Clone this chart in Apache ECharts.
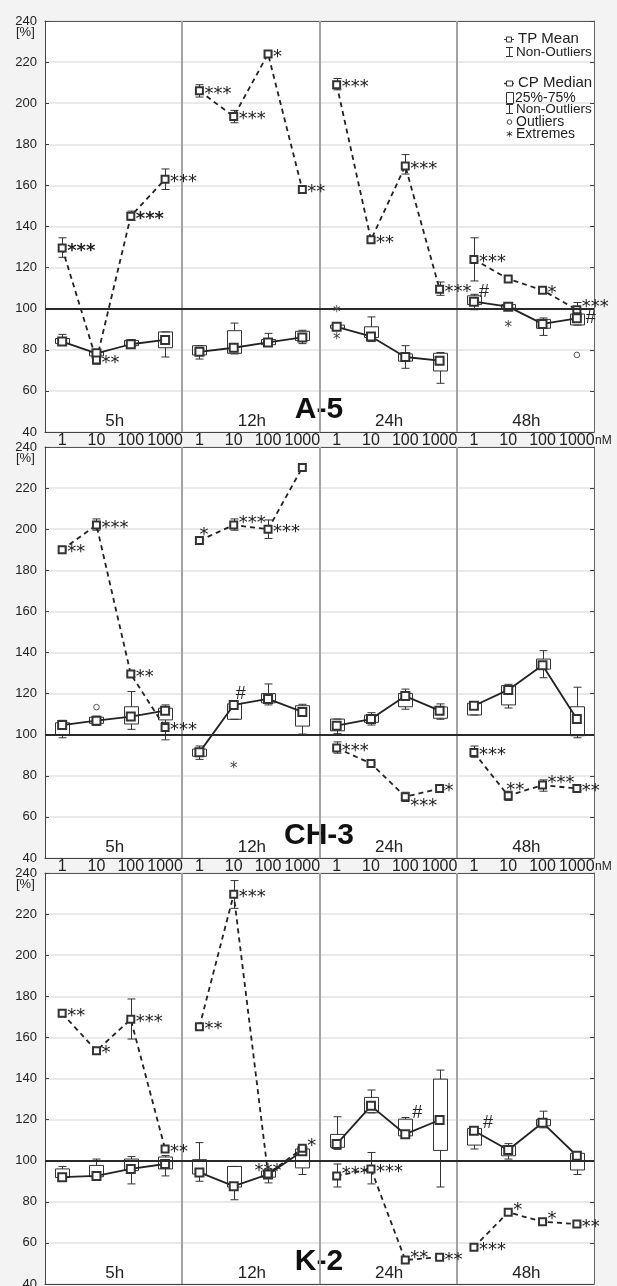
<!DOCTYPE html>
<html><head><meta charset="utf-8">
<script src="https://cdn.jsdelivr.net/npm/echarts@6/dist/echarts.min.js"></script>
<style>html,body{margin:0;padding:0;background:#f3f3f3;overflow:hidden}#c{width:617px;height:1286px}</style>
</head><body><div id="c"></div>
<script>
// ---------------- DATA ----------------
const doses = ['1', '10', '100', '1000'];
const times = ['5h', '12h', '24h', '48h'];
const categories = times.flatMap(t => doses.map(d => t + '|' + d));
const yTicks = [40, 60, 80, 100, 120, 140, 160, 180, 200, 220, 240];
const panelNames = ['A-5', 'CH-3', 'K-2'];

// A-5 : TP mean (dashed) with non-outlier range
const a5TpMean = [129.5, 75, 145, 163, 206, 193.5, 224, 158, 209, 133.5, 169.5, 109.5, 124, 114.5, 109, 99.5];
const a5TpLow  = [125, 73, 143, 158, 203, 190.5, 223, 156.5, 206.5, 132.5, 165.5, 106.5, 113.5, 114, 108.5, 97];
const a5TpHigh = [134.5, 77, 147.5, 168, 209, 196.5, 225, 159.5, 212, 134.5, 175, 113, 134.5, 115, 109.5, 103];
const a5TpSig  = ['***', '**', '***', '***', '***', '***', '*', '**', '***', '**', '***', '***', '***', '', '*', '***'];
// A-5 : CP median box (min, q1, median, q3, max)
const a5CpMin = [83, 76, 81.5, 76.5, 75.5, 78, 82, 83, 90.5, 84, 71, 63.7, 99.5, 100, 87, 92];
const a5CpQ1  = [83, 77, 82, 81, 77.5, 78.3, 82.5, 84.5, 90.5, 86, 74.5, 69.7, 102, 100.3, 90.5, 92.1];
const a5CpMed = [84, 78.3, 82.7, 84.8, 79, 81, 83.6, 86, 91.2, 86.5, 76.5, 74.7, 103.4, 101, 92.6, 95.3];
const a5CpQ3  = [85.5, 79, 84.5, 88.7, 82, 89.3, 85, 89, 92, 91.2, 78, 78.3, 106.3, 102, 94.8, 97.4];
const a5CpMax = [87.5, 79.5, 85, 88.7, 82, 93, 88, 89.5, 92, 96, 82, 78.7, 107, 102, 95.5, 98];
const a5CpSig = ['', '', '', '', '', '', '', '', '', '', '', '', '#', '', '', '#'];
const a5Extremes = [[8, 99.8], [8, 86.5], [13, 92.6]];
const a5Outliers = [[15, 77.5]];

// CH-3
const ch3TpMean = [190, 202, 129.5, 103.5, 194.5, 202, 200, 230, 93.5, 86, 69.8, 73.8, 91.3, 70.3, 75.5, 73.8];
const ch3TpLow  = [189.5, 199.5, 128, 97.5, 194, 199.5, 195.5, 229.5, 91, 85.5, 67.5, 73.3, 89, 68, 72.5, 72.8];
const ch3TpHigh = [190.5, 205, 131, 106, 195, 205, 204.5, 230.5, 96.5, 86.5, 72, 74.3, 94.5, 72.5, 78, 74.8];
const ch3TpSig  = ['**', '***', '**', '***', '*', '***', '***', '', '***', '', '***', '*', '***', '**', '***', '**'];
const ch3CpMin = [98.5, 104.5, 102.6, 103, 88, 107.5, 114.5, 100.3, 100.5, 104.7, 112.4, 107.5, 109.6, 113, 127.7, 98.5];
const ch3CpQ1  = [100, 105.5, 105.2, 107.2, 89.5, 107.5, 115.5, 104.2, 101.9, 106, 113.6, 108, 109.6, 114.5, 131.9, 99.5];
const ch3CpMed = [104.7, 106.8, 108.8, 111.7, 91.4, 114.5, 117.4, 111.1, 104.4, 107.6, 118.8, 111.7, 114.1, 121.8, 133.8, 107.6];
const ch3CpQ3  = [105.8, 108.5, 113.6, 112.9, 93, 115, 120, 114.1, 107.6, 109.5, 120.1, 113.5, 115.3, 123.9, 136.8, 113.6];
const ch3CpMax = [107, 109, 121, 114.5, 94.5, 115, 124.7, 114.8, 107.6, 110.7, 122.2, 115, 115.3, 124.5, 140.9, 123.1];
const ch3CpSig = ['', '', '', '', '', '#', '', '', '', '', '', '', '', '', '', ''];
const ch3Extremes = [[5, 85.3]];
const ch3Outliers = [[1, 113.4]];

// K-2
const k2TpMean = [171.7, 153.5, 168.8, 105.7, 165.2, 229.6, 93.5, 106, 92.6, 96, 51.7, 53, 57.9, 74.9, 70.3, 69.2];
const k2TpLow  = [170, 153, 159.2, 105, 164.7, 222.8, 92.5, 105.5, 87.2, 88.7, 51, 52.5, 57, 74.4, 69.8, 68.7];
const k2TpHigh = [173.5, 154, 178.7, 106.5, 165.7, 236.3, 94.5, 106.5, 98.4, 104, 52.5, 53.5, 59, 75.4, 70.8, 69.7];
const k2TpSig  = ['**', '*', '***', '**', '**', '***', '***', '*', '***', '***', '**', '**', '***', '*', '*', '**'];
const k2CpMin = [91.5, 92, 88.7, 92.6, 90, 81, 89.2, 93.3, 105.5, 123.3, 112.1, 87.2, 105.7, 100.8, 116, 93.3];
const k2CpQ1  = [91.8, 92.2, 95.2, 96, 93.5, 87.2, 92, 96.5, 106.5, 123.3, 112.1, 105, 107.6, 102.4, 117, 95.5];
const k2CpMed = [92, 92.6, 96, 98.4, 94.3, 87.6, 93.3, 104.6, 108.1, 126.7, 112.9, 119.8, 114.6, 105.2, 118.5, 102.4];
const k2CpQ3  = [96, 97.7, 100.8, 101.8, 100.5, 97.2, 95, 105.7, 112.8, 130.8, 120.2, 139.7, 115.7, 107.2, 120.1, 103.6];
const k2CpMax = [97.2, 100.8, 102, 102.5, 108.8, 97.2, 96, 106, 121.4, 134.4, 121, 144.1, 115.7, 108.3, 124.1, 104];
const k2CpSig = ['', '', '', '', '', '', '', '', '', '', '#', '', '#', '', '', ''];
const k2Extremes = [];
const k2Outliers = [];

// ---------------- STYLE (label placement only) ----------------
const sigPlace = [
  {15: 'tr'},
  {4: 'tc', 5: 'tr', 10: 'br', 13: 'tl', 14: 'tr'},
  {6: 't', 7: 'tr', 8: 'tr', 10: 'tr', 13: 'tr', 14: 'tr'}
];
const sigBold = [{0: true, 2: true}, {}, {}];
const hashOffset = [
  {12: [10, -10], 15: [14, 0]},
  {5: [7, -11]},
  {10: [12, -21], 12: [14, -8]}
];
const showXLabels = [true, true, false];

const panels = [
  {tpMean: a5TpMean, tpLow: a5TpLow, tpHigh: a5TpHigh, tpSig: a5TpSig, min: a5CpMin, q1: a5CpQ1, med: a5CpMed, q3: a5CpQ3, max: a5CpMax, cpSig: a5CpSig, ext: a5Extremes, out: a5Outliers},
  {tpMean: ch3TpMean, tpLow: ch3TpLow, tpHigh: ch3TpHigh, tpSig: ch3TpSig, min: ch3CpMin, q1: ch3CpQ1, med: ch3CpMed, q3: ch3CpQ3, max: ch3CpMax, cpSig: ch3CpSig, ext: ch3Extremes, out: ch3Outliers},
  {tpMean: k2TpMean, tpLow: k2TpLow, tpHigh: k2TpHigh, tpSig: k2TpSig, min: k2CpMin, q1: k2CpQ1, med: k2CpMed, q3: k2CpQ3, max: k2CpMax, cpSig: k2CpSig, ext: k2Extremes, out: k2Outliers}
];

const FONT = '"Liberation Sans", Arial, sans-serif';
const STAR = '"DejaVu Sans", sans-serif';
const INK = '#222';
const tops = [21, 447, 873];
const GL = 45, GW = 549, GH = 411;

const option = {backgroundColor: '#f3f3f3', animation: false, grid: [], xAxis: [], yAxis: [], series: [], graphic: []};

function grp(values, g) { return values.map((v, i) => Math.floor(i / 4) === g ? v : '-'); }

panels.forEach((P, p) => {
  option.grid.push({left: GL, top: tops[p], width: GW, height: GH, show: true, backgroundColor: '#fff', borderWidth: 0,
    containLabel: false, outerBoundsMode: 'none'});
  const xi = option.xAxis.length;
  option.xAxis.push({
    gridIndex: p, type: 'category', data: categories, position: 'bottom', boundaryGap: true,
    axisLine: {lineStyle: {color: '#444', width: 1}},
    axisTick: {inside: true, length: 4, alignWithLabel: true, lineStyle: {color: '#444'}},
    axisLabel: {show: showXLabels[p], formatter: v => v.split('|')[1], fontSize: 16, margin: 1, color: INK, fontFamily: FONT, interval: 0},
    splitLine: {show: false}
  });
  option.xAxis.push({
    gridIndex: p, type: 'category', data: categories, position: 'top', boundaryGap: true,
    axisLine: {lineStyle: {color: '#555', width: 1}},
    axisTick: {inside: true, length: 4, alignWithLabel: true, lineStyle: {color: '#444'}},
    axisLabel: {show: false}, splitLine: {show: false}
  });
  const yi = option.yAxis.length;
  option.yAxis.push({
    gridIndex: p, type: 'value', min: 40, max: 240, interval: 20, position: 'left',
    axisLine: {show: true, lineStyle: {color: '#444'}},
    axisTick: {show: true, inside: true, length: 4, lineStyle: {color: '#444'}},
    axisLabel: {fontSize: 13, color: INK, fontFamily: FONT, margin: 8,
      formatter: v => yTicks.includes(v) ? String(v) : ''},
    splitLine: {show: true, lineStyle: {color: '#e3e3e3', width: 1.5}}
  });
  option.yAxis.push({
    gridIndex: p, type: 'value', min: 40, max: 240, interval: 20, position: 'right',
    axisLine: {show: true, lineStyle: {color: '#666'}},
    axisTick: {show: true, inside: true, length: 4, lineStyle: {color: '#444'}},
    axisLabel: {show: false}, splitLine: {show: false}
  });
  const ax = {xAxisIndex: xi, yAxisIndex: yi};

  // group separators
  option.series.push(Object.assign({
    type: 'custom', silent: true, z: 1, data: [[3, 40], [7, 40], [11, 40]], encode: {x: 0, y: 1},
    renderItem: (params, api) => {
      const i = api.value(0);
      const a = api.coord([i, 240]), b = api.coord([i + 1, 40]);
      const x = Math.round((a[0] + b[0]) / 2);
      return {type: 'line', shape: {x1: x, y1: a[1], x2: x, y2: b[1]}, style: {stroke: '#a3a3a3', lineWidth: 2}};
    }
  }, ax));

  // CP boxes
  option.series.push(Object.assign({
    type: 'custom', silent: true, z: 3,
    data: P.med.map((m, i) => [i, P.min[i], P.q1[i], m, P.q3[i], P.max[i]]),
    encode: {x: 0, y: [1, 2, 3, 4, 5]},
    renderItem: (params, api) => {
      const i = api.value(0);
      const c = v => api.coord([i, v]);
      const x = Math.round(c(api.value(3))[0]) + 0.5;
      const yMin = c(api.value(1))[1], yQ1 = c(api.value(2))[1], yQ3 = c(api.value(4))[1], yMax = c(api.value(5))[1];
      const hw = 7, cw = 4;
      const st = {stroke: '#333', lineWidth: 1};
      return {type: 'group', children: [
        {type: 'line', shape: {x1: x, y1: yQ3, x2: x, y2: yMax}, style: st},
        {type: 'line', shape: {x1: x - cw, y1: yMax, x2: x + cw, y2: yMax}, style: st},
        {type: 'line', shape: {x1: x, y1: yQ1, x2: x, y2: yMin}, style: st},
        {type: 'line', shape: {x1: x - cw, y1: yMin, x2: x + cw, y2: yMin}, style: st},
        {type: 'rect', shape: {x: x - hw, y: yQ3, width: 2 * hw, height: Math.max(yQ1 - yQ3, 1)}, style: {stroke: '#333', lineWidth: 1, fill: 'rgba(0,0,0,0)'}}
      ]};
    }
  }, ax));

  // TP non-outlier ranges
  option.series.push(Object.assign({
    type: 'custom', silent: true, z: 3,
    data: P.tpMean.map((m, i) => [i, P.tpLow[i], m, P.tpHigh[i]]),
    encode: {x: 0, y: [1, 2, 3]},
    renderItem: (params, api) => {
      const i = api.value(0);
      const lo = api.coord([i, api.value(1)]), hi = api.coord([i, api.value(3)]);
      const x = Math.round(lo[0]) + 0.5, cw = 4;
      const st = {stroke: '#333', lineWidth: 1};
      return {type: 'group', children: [
        {type: 'line', shape: {x1: x, y1: lo[1], x2: x, y2: hi[1]}, style: st},
        {type: 'line', shape: {x1: x - cw, y1: lo[1], x2: x + cw, y2: lo[1]}, style: st},
        {type: 'line', shape: {x1: x - cw, y1: hi[1], x2: x + cw, y2: hi[1]}, style: st}
      ]};
    }
  }, ax));

  // CP median lines (solid) and TP mean lines (dashed), per time group
  for (let g = 0; g < 4; g++) {
    const s = Object.assign({
      type: 'line', z: 4, data: grp(P.med, g), connectNulls: false, silent: true,
      symbol: 'emptyRect', symbolSize: 8, showAllSymbol: true,
      lineStyle: {color: INK, width: 1.8}, itemStyle: {color: '#333', borderWidth: 1}
    }, ax);
    if (g === 0) {
      s.markLine = {silent: true, symbol: 'none', label: {show: false}, animation: false,
        lineStyle: {color: '#2a2a2a', width: 2, type: 'solid'}, data: [{yAxis: 100}]};
    }
    option.series.push(s);
    option.series.push(Object.assign({
      type: 'line', z: 4, data: grp(P.tpMean, g), connectNulls: false, silent: true,
      symbol: 'emptyRect', symbolSize: 7, showAllSymbol: true,
      lineStyle: {color: INK, width: 1.8, type: [5, 4]}, itemStyle: {color: '#333', borderWidth: 1}
    }, ax));
  }

  // significance labels for TP means
  const sigData = [];
  P.tpSig.forEach((t, i) => { if (t) sigData.push([i, P.tpMean[i]]); });
  option.series.push(Object.assign({
    type: 'custom', silent: true, z: 6, data: sigData, encode: {x: 0, y: 1},
    renderItem: (params, api) => {
      const i = api.value(0);
      const pt = api.coord([i, api.value(1)]);
      const txt = P.tpSig[i];
      const pl = sigPlace[p][i] || 'r';
      let dx = 5, dy = -2, align = 'left';
      if (pl === 'tr') { dy = -7; }
      else if (pl === 'br') { dy = 5; }
      else if (pl === 't') { dx = 0; dy = -8; align = 'center'; }
      else if (pl === 'tl') { dx = -2; dy = -10; }
      else if (pl === 'tc') { dx = 0; dy = -10; }
      return {type: 'text', x: pt[0] + dx, y: pt[1] + dy + 5,
        style: {text: txt, fontSize: 18, fontFamily: STAR, fontWeight: sigBold[p][i] ? 'bold' : 'normal',
          fill: INK, align: align, verticalAlign: 'middle'}};
    }
  }, ax));

  // # labels for CP medians
  const hashData = [];
  P.cpSig.forEach((t, i) => { if (t) hashData.push([i, P.med[i]]); });
  option.series.push(Object.assign({
    type: 'custom', silent: true, z: 6, data: hashData, encode: {x: 0, y: 1},
    renderItem: (params, api) => {
      const i = api.value(0);
      const pt = api.coord([i, api.value(1)]);
      const off = hashOffset[p][i] || [10, -8];
      return {type: 'text', x: pt[0] + off[0], y: pt[1] + off[1],
        style: {text: P.cpSig[i], fontSize: 18, fontFamily: FONT, fill: INK, align: 'center', verticalAlign: 'middle'}};
    }
  }, ax));

  // extremes (*) and outliers (o)
  option.series.push(Object.assign({
    type: 'custom', silent: true, z: 6, data: P.ext, encode: {x: 0, y: 1},
    renderItem: (params, api) => {
      const pt = api.coord([api.value(0), api.value(1)]);
      return {type: 'text', x: pt[0], y: pt[1] + 4,
        style: {text: '*', fontSize: 15, fontFamily: STAR, fill: '#444', align: 'center', verticalAlign: 'middle'}};
    }
  }, ax));
  option.series.push(Object.assign({
    type: 'custom', silent: true, z: 6, data: P.out, encode: {x: 0, y: 1},
    renderItem: (params, api) => {
      const pt = api.coord([api.value(0), api.value(1)]);
      return {type: 'circle', shape: {cx: pt[0], cy: pt[1], r: 2.8}, style: {stroke: '#555', lineWidth: 1, fill: '#fff'}};
    }
  }, ax));

  // texts: [%], time labels, panel name, nM
  const top = tops[p];
  option.graphic.push({type: 'text', left: 16, top: top + 5, style: {text: '[%]', fontSize: 13, fontFamily: FONT, fill: INK}});
  times.forEach((t, g) => {
    option.graphic.push({type: 'text', x: GL + GW / 8 * (2 * g + 1) + 1, y: top + 400,
      style: {text: t, fontSize: 17, fontFamily: FONT, fill: INK, align: 'center', verticalAlign: 'middle'}});
  });
  option.graphic.push({type: 'text', x: 319, y: top + 389,
    style: {text: panelNames[p], fontSize: 30, fontWeight: 'bold', fontFamily: FONT, fill: '#111', align: 'center', verticalAlign: 'middle'}});
  if (showXLabels[p]) {
    option.graphic.push({type: 'text', x: 595, y: top + GH + 9,
      style: {text: 'nM', fontSize: 12, fontFamily: FONT, fill: INK, align: 'left', verticalAlign: 'middle'}});
  }
});

// legend (panel A-5, top right)
const lg = [
  {type: 'line', shape: {x1: 504, y1: 39.5, x2: 514, y2: 39.5}, style: {stroke: '#333', lineWidth: 1}},
  {type: 'rect', shape: {x: 506.5, y: 37, width: 5, height: 5}, style: {stroke: '#333', fill: '#fff', lineWidth: 1}},
  {type: 'text', x: 518, y: 39, style: {text: 'TP Mean', fontSize: 15, fontFamily: FONT, fill: INK, verticalAlign: 'middle'}},
  {type: 'line', shape: {x1: 509.5, y1: 47, x2: 509.5, y2: 57}, style: {stroke: '#333', lineWidth: 1}},
  {type: 'line', shape: {x1: 506, y1: 47.5, x2: 513, y2: 47.5}, style: {stroke: '#333', lineWidth: 1}},
  {type: 'line', shape: {x1: 506, y1: 56.5, x2: 513, y2: 56.5}, style: {stroke: '#333', lineWidth: 1}},
  {type: 'text', x: 516, y: 52, style: {text: 'Non-Outliers', fontSize: 13.5, fontFamily: FONT, fill: INK, verticalAlign: 'middle'}},
  {type: 'line', shape: {x1: 504, y1: 83.5, x2: 514, y2: 83.5}, style: {stroke: '#333', lineWidth: 1.5}},
  {type: 'rect', shape: {x: 506.5, y: 81, width: 6, height: 5}, style: {stroke: '#333', fill: '#fff', lineWidth: 1}},
  {type: 'text', x: 518, y: 83, style: {text: 'CP Median', fontSize: 15, fontFamily: FONT, fill: INK, verticalAlign: 'middle'}},
  {type: 'rect', shape: {x: 506.5, y: 92.5, width: 7, height: 11}, style: {stroke: '#333', fill: '#fff', lineWidth: 1}},
  {type: 'text', x: 515, y: 98, style: {text: '25%-75%', fontSize: 14, fontFamily: FONT, fill: INK, verticalAlign: 'middle'}},
  {type: 'line', shape: {x1: 509.5, y1: 104, x2: 509.5, y2: 114}, style: {stroke: '#333', lineWidth: 1}},
  {type: 'line', shape: {x1: 506, y1: 104.5, x2: 513, y2: 104.5}, style: {stroke: '#333', lineWidth: 1}},
  {type: 'line', shape: {x1: 506, y1: 113.5, x2: 513, y2: 113.5}, style: {stroke: '#333', lineWidth: 1}},
  {type: 'text', x: 516, y: 109, style: {text: 'Non-Outliers', fontSize: 13.5, fontFamily: FONT, fill: INK, verticalAlign: 'middle'}},
  {type: 'circle', shape: {cx: 509.5, cy: 122, r: 2.3}, style: {stroke: '#444', fill: '#fff', lineWidth: 1}},
  {type: 'text', x: 516, y: 122, style: {text: 'Outliers', fontSize: 14, fontFamily: FONT, fill: INK, verticalAlign: 'middle'}},
  {type: 'text', x: 509.5, y: 137, style: {text: '*', fontSize: 13, fontFamily: STAR, fill: INK, align: 'center', verticalAlign: 'middle'}},
  {type: 'text', x: 516, y: 134, style: {text: 'Extremes', fontSize: 14, fontFamily: FONT, fill: INK, verticalAlign: 'middle'}}
];
lg.forEach(e => { e.z = 100; option.graphic.push(e); });

const chart = echarts.init(document.getElementById('c'), null, {renderer: 'canvas'});
chart.setOption(option);
</script>
</body></html>
